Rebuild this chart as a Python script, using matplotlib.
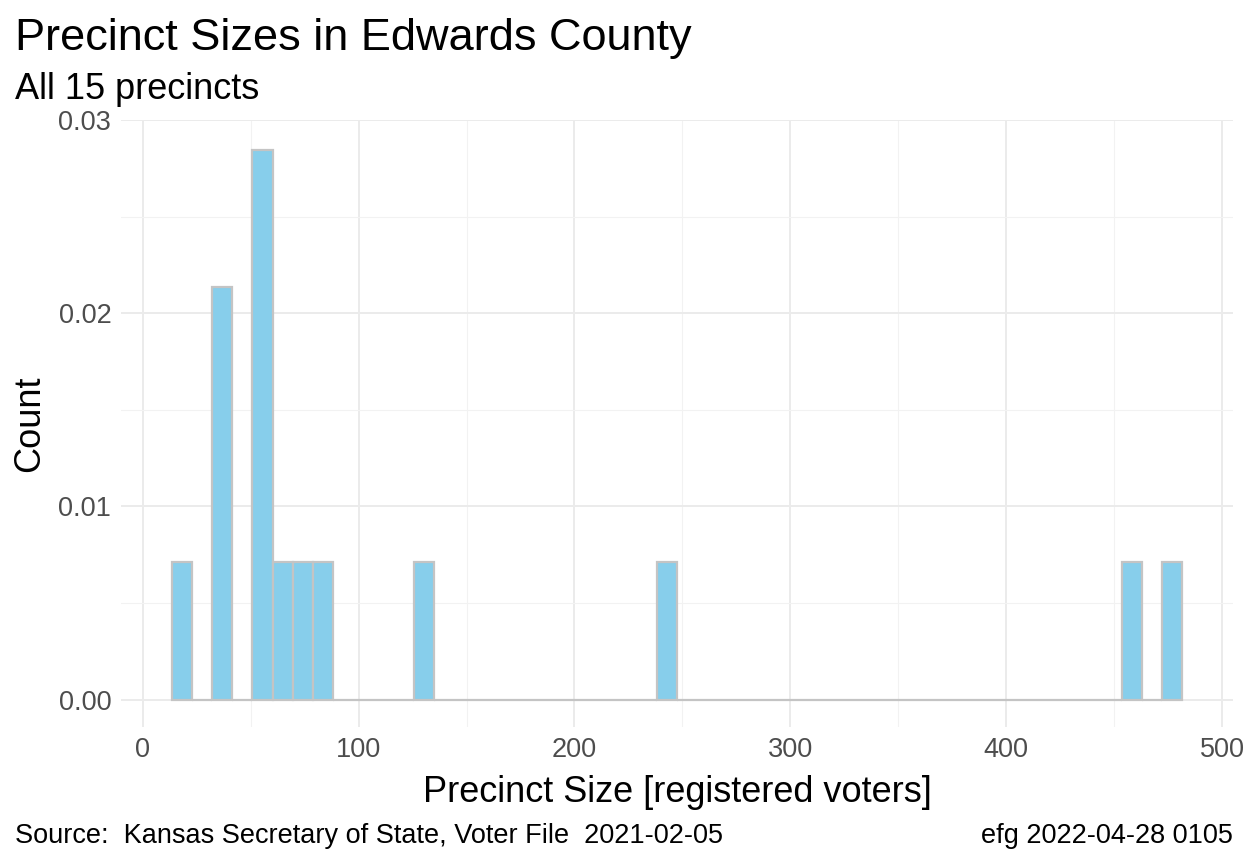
import numpy as np
import matplotlib
matplotlib.use("Agg")
import matplotlib.pyplot as plt
from matplotlib.ticker import MultipleLocator

plt.rcParams['font.family'] = ['Liberation Sans', 'DejaVu Sans']

# Precinct sizes (registered voters)
sizes = [18, 37, 38, 39, 55, 56, 57, 58, 65, 75, 84, 130, 244, 458, 477]
n_bins = 50
title = "Precinct Sizes in Edwards County"
subtitle = "All 15 precincts"
xlabel = "Precinct Size [registered voters]"
ylabel = "Count"
caption_left = "Source:  Kansas Secretary of State, Voter File  2021-02-05"
caption_right = "efg 2022-04-28 0105"
x_ticks = [0, 100, 200, 300, 400, 500]
y_ticks = [0.00, 0.01, 0.02, 0.03]

# ggplot2-style binning: width = range/(bins-1), centred on min
data = np.array(sizes, dtype=float)
width = (data.max() - data.min()) / (n_bins - 1)
edges = data.min() - width / 2 + width * np.arange(n_bins + 1)
counts, _ = np.histogram(data, bins=edges)
density = counts / (len(data) * width)

W, H = 1248, 864
fig = plt.figure(figsize=(W / 100, H / 100), dpi=100)
ax = fig.add_axes([121 / W, 1 - 727 / H, (1233 - 121) / W, (727 - 120) / H])

ax.bar(edges[:-1], density, width=width, align='edge', color='#87CEEB',
       edgecolor='#C4C4C4', linewidth=1.6, zorder=3)

xmin, xmax = edges[0], edges[-1]
ax.set_xlim(xmin - 0.05 * (xmax - xmin), xmax + 0.05 * (xmax - xmin))
ymax = density.max()
ax.set_ylim(-0.05 * ymax, ymax * 1.05)

ax.set_xticks(x_ticks)
ax.set_yticks(y_ticks)
ax.set_yticklabels([f"{v:.2f}" for v in y_ticks])
ax.xaxis.set_minor_locator(MultipleLocator(50))
ax.yaxis.set_minor_locator(MultipleLocator(0.005))
ax.grid(which='major', color='#EBEBEB', linewidth=1.4, zorder=0)
ax.grid(which='minor', color='#F2F2F2', linewidth=0.8, zorder=0)
for s in ax.spines.values():
    s.set_visible(False)
ax.tick_params(which='both', length=0, labelsize=19.5, labelcolor='#4D4D4D', pad=7)

ax.set_xlabel(xlabel, fontsize=26, labelpad=9)
ax.set_ylabel(ylabel, fontsize=26, labelpad=8)

fig.text(15 / W, 1 - 50 / H, title, fontsize=32.5, ha='left', va='baseline')
fig.text(15 / W, 1 - 99 / H, subtitle, fontsize=26, ha='left', va='baseline')
fig.text(15 / W, 1 - 843 / H, caption_left, fontsize=19.5, ha='left', va='baseline')
fig.text(1233 / W, 1 - 843 / H, caption_right, fontsize=19.5, ha='right', va='baseline')

fig.savefig("out.png", dpi=100, facecolor='white')
